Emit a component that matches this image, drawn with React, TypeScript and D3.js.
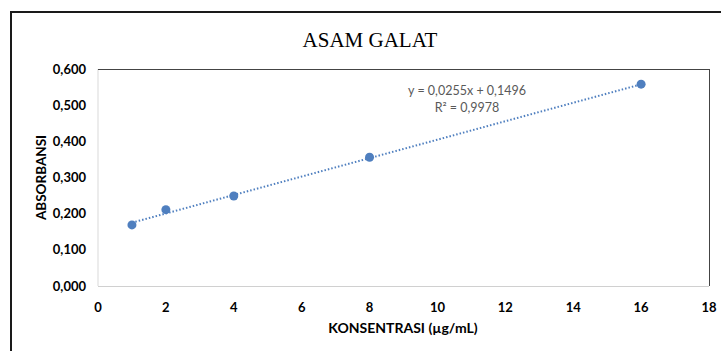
import React, { useEffect, useRef } from "react";
import * as d3 from "d3";

const concentrations = [1, 2, 4, 8, 16];
const absorbances = [0.169, 0.211, 0.249, 0.356, 0.558];
const xTicks = [0, 2, 4, 6, 8, 10, 12, 14, 16, 18];
const yTicks = [0, 0.1, 0.2, 0.3, 0.4, 0.5, 0.6];
const slope = 0.0255;
const intercept = 0.1496;
const equationLines = ["y = 0,0255x + 0,1496", "R² = 0,9978"];

const App = () => {
  const ref = useRef<HTMLDivElement>(null);

  useEffect(() => {
    const width = 721;
    const height = 351;
    const left = 98;
    const right = 709;
    const top = 69;
    const bottom = 286;
    const blue = "#4F7FBF";
    const labelFont = "Lato, 'Open Sans', sans-serif";

    const x = d3.scaleLinear().domain([0, 18]).range([left, right]);
    const y = d3.scaleLinear().domain([0, 0.6]).range([bottom, top]);
    const fmt = d3.formatLocale({ decimal: ",", thousands: ".", grouping: [3], currency: ["", ""] }).format(".3f");

    const svg = d3.create("svg")
      .attr("width", width)
      .attr("height", height)
      .style("display", "block");

    svg.append("rect").attr("width", width).attr("height", height).attr("fill", "#fff");

    // outer frame (left + top only, cropped screenshot)
    svg.append("path")
      .attr("d", `M11,${height} L11,12 L${width},12`)
      .attr("fill", "none")
      .attr("stroke", "#1a1a1a")
      .attr("stroke-width", 2);

    // plot area edges
    svg.append("line").attr("x1", left).attr("x2", left).attr("y1", top).attr("y2", bottom).attr("stroke", "#d9d9d9");
    svg.append("line").attr("x1", left).attr("x2", right).attr("y1", bottom + 0.5).attr("y2", bottom + 0.5).attr("stroke", "#d0d0d0");
    svg.append("line").attr("x1", left).attr("x2", right).attr("y1", top + 0.5).attr("y2", top + 0.5).attr("stroke", "#444");
    svg.append("line").attr("x1", right + 0.5).attr("x2", right + 0.5).attr("y1", top).attr("y2", bottom).attr("stroke", "#444");

    svg.append("text")
      .attr("x", 370)
      .attr("y", 47)
      .attr("text-anchor", "middle")
      .style("font", "21px 'Liberation Serif', 'Times New Roman', serif")
      .attr("fill", "#000")
      .text("ASAM GALAT");

    svg.append("g")
      .selectAll("text")
      .data(yTicks)
      .join("text")
      .attr("x", 86)
      .attr("y", d => y(d))
      .attr("dy", "0.35em")
      .attr("text-anchor", "end")
      .style("font", `bold 13px ${labelFont}`)
      .attr("fill", "#000")
      .text(d => fmt(d));

    svg.append("g")
      .selectAll("text")
      .data(xTicks)
      .join("text")
      .attr("x", d => x(d))
      .attr("y", 312)
      .attr("text-anchor", "middle")
      .style("font", `bold 13px ${labelFont}`)
      .attr("fill", "#000")
      .text(d => d);

    svg.append("text")
      .attr("transform", `translate(46,${(top + bottom) / 2}) rotate(-90)`)
      .attr("text-anchor", "middle")
      .style("font", `bold 13.5px ${labelFont}`)
      .attr("fill", "#000")
      .text("ABSORBANSI");

    svg.append("text")
      .attr("x", 403)
      .attr("y", 333)
      .attr("text-anchor", "middle")
      .style("font", `bold 14px ${labelFont}`)
      .attr("fill", "#000")
      .text("KONSENTRASI (µg/mL)");

    // linear trendline
    const x0 = d3.min(concentrations) as number;
    const x1 = d3.max(concentrations) as number;
    svg.append("line")
      .attr("x1", x(x0))
      .attr("y1", y(slope * x0 + intercept))
      .attr("x2", x(x1))
      .attr("y2", y(slope * x1 + intercept))
      .attr("stroke", blue)
      .attr("stroke-width", 2)
      .attr("stroke-dasharray", "1.5,2");

    svg.append("g")
      .selectAll("circle")
      .data(concentrations)
      .join("circle")
      .attr("cx", d => x(d))
      .attr("cy", (d, i) => y(absorbances[i]))
      .attr("r", 4.5)
      .attr("fill", blue);

    svg.append("g")
      .selectAll("text")
      .data(equationLines)
      .join("text")
      .attr("x", 467)
      .attr("y", (d, i) => 95 + i * 17)
      .attr("text-anchor", "middle")
      .style("font", `12.5px ${labelFont}`)
      .attr("fill", "#595959")
      .text(d => d);

    ref.current!.innerHTML = "";
    ref.current!.appendChild(svg.node()!);
  }, []);

  return <div ref={ref} style={{ position: "fixed", left: 0, top: 0 }} />;
};

export default App;
